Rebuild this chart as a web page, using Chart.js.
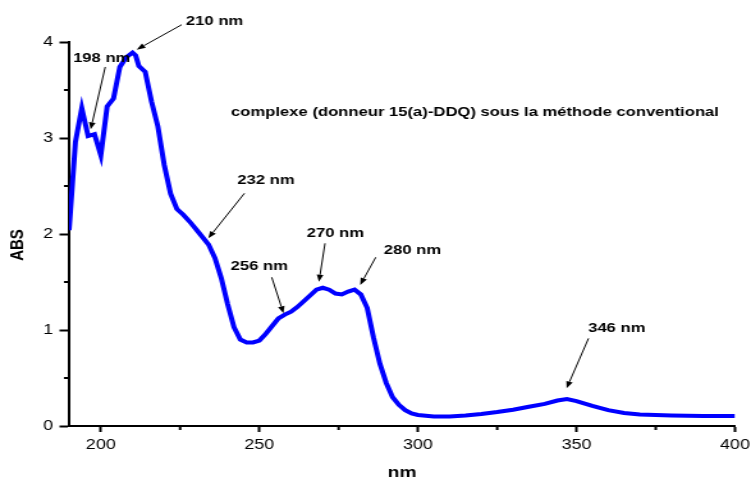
<!DOCTYPE html>
<html>
<head>
<meta charset="utf-8">
<script src="https://cdn.jsdelivr.net/npm/chart.js@4/dist/chart.umd.min.js"></script>
<style>
html,body{margin:0;padding:0;background:#fff;}
#c{display:block;width:751px;height:480px;}
</style>
</head>
<body>
<canvas id="c" width="587" height="480" style="width:751px;height:480px"></canvas>
<script>
// ---- data ----
const wavelengths = [190,192,194,196,198,200,202,204,206,208,210,211,212,214,216,218,220,222,224,226,228,230,232,234,236,238,240,242,244,246,248,250,252,254,256,258,260,262,264,266,268,270,272,274,276,278,280,282,284,286,288,290,292,294,296,298,300,305,310,315,320,325,330,335,340,344,347,350,355,360,365,370,380,390,400];
const absorbance  = [2.04,2.96,3.31,3.02,3.04,2.82,3.33,3.41,3.74,3.84,3.89,3.86,3.75,3.69,3.38,3.12,2.72,2.42,2.26,2.20,2.13,2.05,1.97,1.89,1.75,1.54,1.27,1.03,0.90,0.87,0.87,0.89,0.96,1.04,1.12,1.16,1.19,1.24,1.30,1.36,1.42,1.44,1.42,1.38,1.37,1.40,1.42,1.37,1.23,0.92,0.65,0.45,0.30,0.22,0.165,0.13,0.115,0.10,0.10,0.11,0.125,0.145,0.17,0.20,0.23,0.265,0.28,0.26,0.21,0.165,0.135,0.12,0.11,0.105,0.105];

const xTickValues = [200,250,300,350,400];
const xMinorTicks = [225,275,325,375];
const yTickValues = [0,1,2,3,4];
const yMinorTicks = [0.5,1.5,2.5,3.5];

const xTitle = 'nm';
const yTitle = 'ABS';
const seriesTitle = 'complexe (donneur 15(a)-DDQ) sous la méthode conventional';

// peak annotations: label, label anchor (nm, ABS), arrow tail, arrow head
const peakLabels    = ['198 nm','210 nm','232 nm','256 nm','270 nm','280 nm','346 nm'];
const peakLabelAt   = [[200.3,3.83],[235.9,4.21],[252.1,2.56],[250.0,1.667],[274.0,2.01],[298.3,1.833],[362.7,1.018]];
const peakArrowFrom = [[201.4,3.74],[225.5,4.18],[245.3,2.424],[253.9,1.549],[270.7,1.903],[286.7,1.757],[353.8,0.913]];
const peakArrowTo   = [[196.8,3.09],[211.3,3.92],[233.9,1.955],[257.6,1.174],[268.8,1.503],[281.8,1.469],[346.9,0.392]];
const titleAt = [318.0, 3.27];

const FONT = '"Liberation Sans", Arial, Helvetica, sans-serif';

const annotPlugin = {
  id: 'annot',
  afterDraw(chart) {
    const {ctx, chartArea: a} = chart;
    const xs = chart.scales.x, ys = chart.scales.y;
    ctx.save();
    // minor ticks
    ctx.strokeStyle = '#000';
    ctx.lineWidth = 2;
    ctx.beginPath();
    xMinorTicks.forEach(v => {
      const px = xs.getPixelForValue(v);
      ctx.moveTo(px, a.bottom); ctx.lineTo(px, a.bottom + 4);
    });
    yMinorTicks.forEach(v => {
      const py = ys.getPixelForValue(v);
      ctx.moveTo(a.left, py); ctx.lineTo(a.left - 4, py);
    });
    ctx.stroke();

    // arrows
    ctx.lineWidth = 1;
    ctx.fillStyle = '#000';
    for (let i = 0; i < peakLabels.length; i++) {
      const x1 = xs.getPixelForValue(peakArrowFrom[i][0]), y1 = ys.getPixelForValue(peakArrowFrom[i][1]);
      const x2 = xs.getPixelForValue(peakArrowTo[i][0]),   y2 = ys.getPixelForValue(peakArrowTo[i][1]);
      const ang = Math.atan2(y2 - y1, x2 - x1);
      const hl = 7, hw = 2.6;
      const bx = x2 - Math.cos(ang) * hl, by = y2 - Math.sin(ang) * hl;
      ctx.beginPath();
      ctx.moveTo(x1, y1); ctx.lineTo(bx, by);
      ctx.stroke();
      ctx.beginPath();
      ctx.moveTo(x2, y2);
      ctx.lineTo(bx + Math.sin(ang) * hw, by - Math.cos(ang) * hw);
      ctx.lineTo(bx - Math.sin(ang) * hw, by + Math.cos(ang) * hw);
      ctx.closePath();
      ctx.fill();
    }

    // labels
    ctx.fillStyle = '#000';
    ctx.textAlign = 'center';
    ctx.textBaseline = 'middle';
    ctx.font = 'bold 13px ' + FONT;
    for (let i = 0; i < peakLabels.length; i++) {
      ctx.fillText(peakLabels[i], xs.getPixelForValue(peakLabelAt[i][0]), ys.getPixelForValue(peakLabelAt[i][1]));
    }
    ctx.fillText(seriesTitle, xs.getPixelForValue(titleAt[0]), ys.getPixelForValue(titleAt[1]));

    // axis titles
    ctx.font = 'bold 15px ' + FONT;
    ctx.fillText(xTitle, (a.left + a.right) / 2, 473);
    ctx.save();
    ctx.translate(13.8, 245);
    ctx.rotate(-Math.PI / 2);
    ctx.fillText(yTitle, 0, 0);
    ctx.restore();
    ctx.restore();
  }
};

new Chart(document.getElementById('c'), {
  type: 'line',
  data: {
    datasets: [{
      label: seriesTitle,
      data: wavelengths.map((w, i) => ({x: w, y: absorbance[i]})),
      borderColor: '#0000ff',
      borderWidth: 4,
      pointRadius: 0,
      tension: 0,
      fill: false
    }]
  },
  options: {
    responsive: false,
    devicePixelRatio: 1,
    animation: false,
    layout: {padding: {left: 0, top: 42, right: 12.5, bottom: 0}},
    plugins: {legend: {display: false}, tooltip: {enabled: false}, title: {display: false}},
    scales: {
      x: {
        type: 'linear', min: 190, max: 400,
        afterBuildTicks: s => { s.ticks = xTickValues.map(v => ({value: v})); },
        afterFit: s => { s.height = 54; s.paddingLeft = 0; s.paddingRight = 0; },
        grid: {display: true, drawOnChartArea: false, drawTicks: true, tickLength: 6, tickWidth: 2, tickColor: '#000'},
        border: {display: true, color: '#000', width: 2},
        ticks: {color: '#000', font: {family: FONT, size: 14}, padding: 5, maxRotation: 0}
      },
      y: {
        type: 'linear', min: 0, max: 4,
        afterBuildTicks: s => { s.ticks = yTickValues.map(v => ({value: v})); },
        afterFit: s => { s.width = 54; s.paddingTop = 0; s.paddingBottom = 0; },
        grid: {display: true, drawOnChartArea: false, drawTicks: true, tickLength: 7.5, tickWidth: 2, tickColor: '#000'},
        border: {display: true, color: '#000', width: 2},
        ticks: {color: '#000', font: {family: FONT, size: 14}, padding: 5}
      }
    }
  },
  plugins: [annotPlugin]
});
</script>
</body>
</html>
